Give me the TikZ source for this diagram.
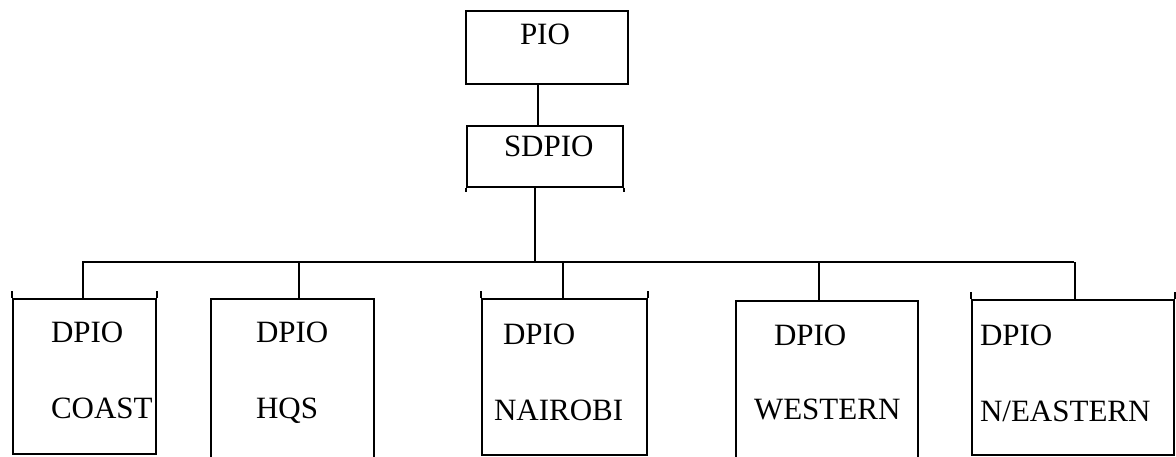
\documentclass[tikz,border=0pt]{standalone}
\usepackage{fontspec}
\setmainfont{Liberation Serif}
\begin{document}
\begin{tikzpicture}[x=1pt,y=-1pt,line width=2pt,
  box/.style={draw,rectangle,inner sep=0pt,anchor=north west},
  lbl/.style={anchor=base west,inner sep=0pt,font=\fontsize{31}{36}\selectfont},
  conn/.style={draw,line width=2pt}]
\useasboundingbox (0,0) rectangle (1176,457);
% boxes
\node[box,minimum width=162pt,minimum height=73pt] (pio) at (465,10) {};
\node[box,minimum width=156pt,minimum height=61pt] (sdpio) at (466,125) {};
\node[box,minimum width=143pt,minimum height=155pt] (coast) at (12,298) {};
\node[box,minimum width=163pt,minimum height=175pt] (hqs) at (210,298) {};
\node[box,minimum width=165pt,minimum height=156pt] (nairobi) at (481,298) {};
\node[box,minimum width=182pt,minimum height=175pt] (western) at (735,300) {};
\node[box,minimum width=202pt,minimum height=155pt] (neastern) at (971,299) {};
% corner ticks
\draw (coast.north west) -- ++(0,-7);
\draw (coast.north east) -- ++(0,-7);
\draw (nairobi.north west) -- ++(0,-7);
\draw (nairobi.north east) -- ++(0,-7);
\draw (neastern.north west) -- ++(0,-7);
\draw (neastern.north east) -- ++(0,-7);
\draw (sdpio.south west) -- ++(0,4);
\draw (sdpio.south east) -- ++(0,4);
% labels
\node[lbl] (tpio) at (519,45) {PIO};
\node[lbl] (tsdpio) at (503,157) {SDPIO};
\node[lbl] (tcoast1) at (50,342) {DPIO};
\node[lbl] (tcoast2) at (50,418) {COAST};
\node[lbl] (thqs1) at (255,342) {DPIO};
\node[lbl] (thqs2) at (255,418) {HQS};
\node[lbl] (tnai1) at (502,344) {DPIO};
\node[lbl] (tnai2) at (493,420) {NAIROBI};
\node[lbl] (twes1) at (773,345) {DPIO};
\node[lbl] (twes2) at (753,419) {WESTERN};
\node[lbl] (tnea1) at (979,345) {DPIO};
\node[lbl] (tnea2) at (979,421) {N/EASTERN};
% bus
\coordinate (busL) at (82,262);
\coordinate (busR) at (1074,262);
% connectors
\draw[conn] ([xshift=-9pt]pio.south) -- ([xshift=-9pt]pio.south |- sdpio.north);
\draw[conn] ([xshift=-10pt]sdpio.south) -- ([xshift=-10pt]sdpio.south |- busL);
\draw[conn] (busL) -- (busR);
\draw[conn] ([xshift=-1.5pt]coast.north) -- ([xshift=-1.5pt]coast.north |- busL);
\draw[conn] ([xshift=6.5pt]hqs.north) -- ([xshift=6.5pt]hqs.north |- busL);
\draw[conn] ([xshift=-1.5pt]nairobi.north) -- ([xshift=-1.5pt]nairobi.north |- busL);
\draw[conn] ([xshift=-8pt]western.north) -- ([xshift=-8pt]western.north |- busL);
\draw[conn] ([xshift=2pt]neastern.north) -- ([xshift=2pt]neastern.north |- busR);
\end{tikzpicture}
\end{document}
